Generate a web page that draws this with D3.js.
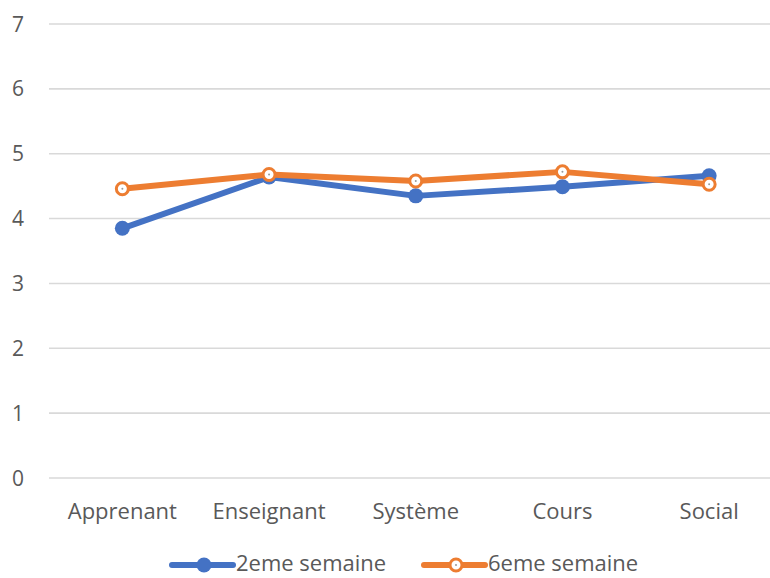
<!DOCTYPE html>
<html>
<head>
<meta charset="utf-8">
<script src="https://cdn.jsdelivr.net/npm/d3@7"></script>
<style>
  body { margin: 0; background: #fff; overflow: hidden; }
  svg { display: block; }
</style>
</head>
<body>
<svg id="chart"></svg>
<script>
const categories = ["Apprenant", "Enseignant", "Système", "Cours", "Social"];
const week2 = [3.85, 4.64, 4.35, 4.49, 4.66];
const week6 = [4.46, 4.68, 4.58, 4.72, 4.53];
const yTicks = [0, 1, 2, 3, 4, 5, 6, 7];
const seriesNames = ["2eme semaine", "6eme semaine"];

const svgWidth = 770, svgHeight = 578;
const font = "'Open Sans', sans-serif";
const blue = "#4472C4", orange = "#ED7D31";

let svg = d3.select("#chart")
    .attr("width", svgWidth)
    .attr("height", svgHeight);

let x = d3.scaleBand().domain(categories).range([49, 782.5]);
let y = d3.scaleLinear().domain([0, 7]).range([478, 24]);

// gridlines
svg.append("g")
    .selectAll("line")
    .data(yTicks)
    .enter()
    .append("line")
    .attr("x1", 49)
    .attr("x2", 782)
    .attr("y1", d => y(d))
    .attr("y2", d => y(d))
    .attr("stroke", "#d9d9d9")
    .attr("stroke-width", 1.6);

// y labels
svg.append("g")
    .selectAll("text")
    .data(yTicks)
    .enter()
    .append("text")
    .attr("x", 24)
    .attr("y", d => y(d))
    .attr("dy", "0.36em")
    .attr("text-anchor", "end")
    .attr("font-family", font)
    .attr("font-size", "21px")
    .attr("fill", "#595959")
    .text(d => d);

// x labels
svg.append("g")
    .selectAll("text")
    .data(categories)
    .enter()
    .append("text")
    .attr("x", d => x(d) + x.bandwidth() / 2)
    .attr("y", 519)
    .attr("text-anchor", "middle")
    .attr("font-family", font)
    .attr("font-size", "22px")
    .attr("fill", "#595959")
    .text(d => d);

let line = d3.line()
    .x((d, i) => x(categories[i]) + x.bandwidth() / 2)
    .y(d => y(d));

function drawSeries(values, color, hollow) {
    svg.append("path")
        .datum(values)
        .attr("d", line)
        .attr("fill", "none")
        .attr("stroke", color)
        .attr("stroke-width", 6)
        .attr("stroke-linejoin", "round");

    let g = svg.append("g");
    g.selectAll("circle")
        .data(values)
        .enter()
        .append("circle")
        .attr("cx", (d, i) => x(categories[i]) + x.bandwidth() / 2)
        .attr("cy", d => y(d))
        .attr("r", hollow ? 6 : 7.5)
        .attr("fill", hollow ? "#fff" : color)
        .attr("stroke", hollow ? color : "none")
        .attr("stroke-width", 3);
    if (hollow) {
        g.selectAll(".dot")
            .data(values)
            .enter()
            .append("circle")
            .attr("cx", (d, i) => x(categories[i]) + x.bandwidth() / 2)
            .attr("cy", d => y(d))
            .attr("r", 1)
            .attr("fill", "#999");
    }
}

drawSeries(week2, blue, false);
drawSeries(week6, orange, true);

// legend
let legend = [
    { name: seriesNames[0], color: blue, hollow: false, x: 172 },
    { name: seriesNames[1], color: orange, hollow: true, x: 424 }
];
let lg = svg.append("g")
    .selectAll("g")
    .data(legend)
    .enter()
    .append("g")
    .attr("transform", d => "translate(" + d.x + ",565)");

lg.append("line")
    .attr("x1", 0).attr("x2", 61)
    .attr("y1", 0).attr("y2", 0)
    .attr("stroke", d => d.color)
    .attr("stroke-width", 6)
    .attr("stroke-linecap", "round");

lg.append("circle")
    .attr("cx", 32)
    .attr("cy", 0)
    .attr("r", d => d.hollow ? 6 : 7.5)
    .attr("fill", d => d.hollow ? "#fff" : d.color)
    .attr("stroke", d => d.hollow ? d.color : "none")
    .attr("stroke-width", 3);

lg.filter(d => d.hollow)
    .append("circle")
    .attr("cx", 32).attr("cy", 0).attr("r", 1)
    .attr("fill", "#999");

lg.append("text")
    .attr("x", 64)
    .attr("y", 6)
    .attr("font-family", font)
    .attr("font-size", "22px")
    .attr("fill", "#595959")
    .text(d => d.name);
</script>
</body>
</html>
